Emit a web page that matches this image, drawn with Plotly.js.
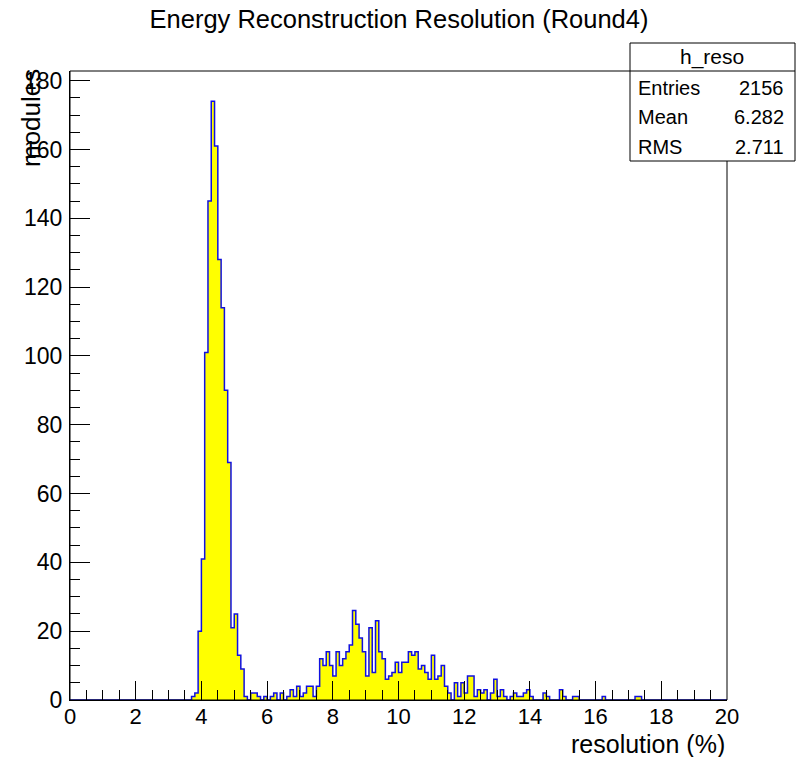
<!DOCTYPE html>
<html>
<head>
<meta charset="utf-8">
<script src="https://cdn.plot.ly/plotly-3.0.1.min.js"></script>
<style>html,body{margin:0;padding:0;background:#fff;}#chart{width:798px;height:757px;}</style>
</head>
<body>
<div id="chart"></div>
<script>
// Histogram h_reso: 200 bins from 0 to 20 (bin width 0.1)
var xMin = 0;
var binWidth = 0.1;
var counts = [
  0,0,0,0,0,0,0,0,0,0,            // 0.0-0.9
  0,0,0,0,0,0,0,0,0,0,            // 1.0-1.9
  0,0,0,0,0,0,0,0,0,0,            // 2.0-2.9
  0,0,0,0,0,0,0,1,2,20,           // 3.0-3.9
  41,101,145,174,161,128,114,90,69,21, // 4.0-4.9
  25,13,9,1,0,2,2,1,0,1,          // 5.0-5.9
  0,1,2,0,2,0,1,3,1,4,            // 6.0-6.9
  1,2,4,4,1,4,12,10,14,10,        // 7.0-7.9
  7,14,10,12,14,16,26,22,18,14,   // 8.0-8.9
  7,21,8,23,14,12,6,7,8,11,       // 9.0-9.9
  8,11,11,14,13,14,9,10,8,6,      // 10.0-10.9
  13,6,7,10,4,2,0,5,1,5,          // 11.0-11.9
  2,7,7,1,3,2,3,0,2,6,            // 12.0-12.9
  1,3,1,0,1,2,1,1,2,3,            // 13.0-13.9
  1,0,0,0,2,1,0,0,0,3,            // 14.0-14.9
  1,0,0,1,1,0,0,0,0,0,            // 15.0-15.9
  0,0,1,0,0,0,0,0,0,0,            // 16.0-16.9
  0,0,1,1,0,0,0,0,0,0,            // 17.0-17.9
  0,0,0,0,0,0,0,0,0,0,            // 18.0-18.9
  0,0,0,0,0,0,0,0,0,0             // 19.0-19.9
];
var xTickVals = [0,2,4,6,8,10,12,14,16,18,20];
var yTickVals = [0,20,40,60,80,100,120,140,160,180];
var statsLabels = ["Entries", "Mean", "RMS"];
var statsValues = ["2156", "6.282", "2.711"];
var histName = "h_reso";
var chartTitle = "Energy Reconstruction Resolution (Round4)";
var xTitle = "resolution (%)";
var yTitle = "modules";

// step outline: left edges + final right edge
var xs = [], ys = [];
for (var i = 0; i < counts.length; i++) {
  xs.push(+(xMin + i * binWidth).toFixed(4));
  ys.push(counts[i]);
}
xs.push(+(xMin + counts.length * binWidth).toFixed(4));
ys.push(counts[counts.length - 1]);

var FONT = "Liberation Sans, Arial, Helvetica, sans-serif";

var trace = {
  type: "scatter",
  mode: "lines",
  x: xs,
  y: ys,
  line: {shape: "hv", color: "#1010e0", width: 1.5},
  fill: "tozeroy",
  fillcolor: "#ffff00",
  hoverinfo: "skip"
};

// plot area geometry (px): left 70, right 727, top 71, bottom 700
var L = 70, R = 727, T = 71, B = 700;
var W = R - L, H = B - T;
function px(x) { return (x - L) / W; }
function py(y) { return (B - y) / H; }

var annotations = [
  {text: histName, xref: "paper", yref: "paper", x: px(712), y: py(57), xanchor: "center", yanchor: "middle",
   showarrow: false, font: {family: FONT, size: 21, color: "#000"}},
  {text: xTitle, xref: "paper", yref: "paper", x: 1, y: py(744), xanchor: "right", yanchor: "middle",
   showarrow: false, font: {family: FONT, size: 25, color: "#000"}},
  {text: yTitle, xref: "paper", yref: "paper", x: px(31), y: py(67), xanchor: "center", yanchor: "top",
   textangle: -90, showarrow: false, font: {family: FONT, size: 26, color: "#000"}}
];
var rowY = [88, 117, 147];
for (var r = 0; r < statsLabels.length; r++) {
  annotations.push({text: statsLabels[r], xref: "paper", yref: "paper", x: px(636), y: py(rowY[r]),
    xanchor: "left", yanchor: "middle", showarrow: false, font: {family: FONT, size: 20, color: "#000"}});
  annotations.push({text: statsValues[r], xref: "paper", yref: "paper", x: px(786), y: py(rowY[r]),
    xanchor: "right", yanchor: "middle", showarrow: false, font: {family: FONT, size: 20, color: "#000"}});
}

var shapes = [
  // frame
  {type: "rect", xref: "paper", yref: "paper", x0: 0, x1: 1, y0: 0, y1: 1,
   line: {color: "#000", width: 1}, fillcolor: "rgba(0,0,0,0)", layer: "above"},
  // stats box
  {type: "rect", xref: "paper", yref: "paper", x0: px(630), x1: px(795), y0: py(161), y1: py(43),
   line: {color: "#000", width: 1}, fillcolor: "#ffffff", layer: "above"},
  {type: "line", xref: "paper", yref: "paper", x0: px(630), x1: px(795), y0: py(71), y1: py(71),
   line: {color: "#000", width: 1}, layer: "above"}
];

var layout = {
  width: 798,
  height: 757,
  paper_bgcolor: "#ffffff",
  plot_bgcolor: "#ffffff",
  margin: {l: L, r: 798 - R, t: T, b: 757 - B, pad: 0},
  showlegend: false,
  title: {text: chartTitle, font: {family: FONT, size: 25.5, color: "#000"},
          xref: "container", yref: "container", x: 0.5, y: 1 - 19 / 757, xanchor: "center", yanchor: "middle"},
  xaxis: {
    range: [0, 20], tickvals: xTickVals, ticktext: xTickVals.map(String),
    ticks: "inside", ticklen: 19, tickwidth: 1, tickcolor: "#000",
    minor: {dtick: 0.5, ticks: "inside", ticklen: 10, tickcolor: "#000", tickwidth: 1, showgrid: false},
    showgrid: false, zeroline: false, showline: true, linecolor: "#000", linewidth: 1,
    tickfont: {family: FONT, size: 22, color: "#000"}, ticklabelstandoff: -3
  },
  yaxis: {
    range: [0, 182.8], tickvals: yTickVals, ticktext: yTickVals.map(String),
    ticks: "inside", ticklen: 20, tickwidth: 1, tickcolor: "#000",
    minor: {dtick: 5, ticks: "inside", ticklen: 10, tickcolor: "#000", tickwidth: 1, showgrid: false},
    showgrid: false, zeroline: false, showline: true, linecolor: "#000", linewidth: 1,
    tickfont: {family: FONT, size: 23, color: "#000"}, ticklabelstandoff: 2
  },
  annotations: annotations,
  shapes: shapes
};

Plotly.newPlot("chart", [trace], layout, {staticPlot: true, displayModeBar: false});
</script>
</body>
</html>
